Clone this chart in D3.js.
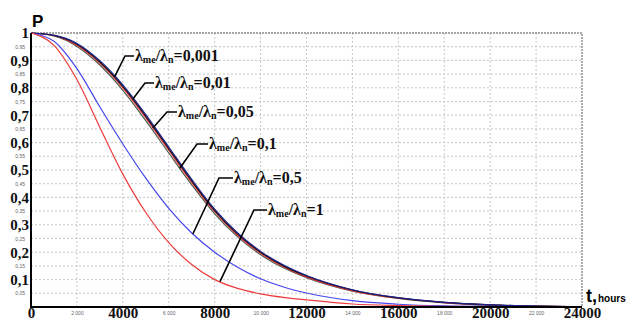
<!DOCTYPE html>
<html>
<head>
<meta charset="utf-8">
<script src="https://cdn.jsdelivr.net/npm/d3@7/dist/d3.min.js"></script>
<style>
    body { margin: 0; background: #fff; }
    svg { display: block; }
    .grid line { stroke: #c8c8c8; stroke-width: 1; stroke-dasharray: 2,2; }
    .major text { font-family: "Liberation Serif", "Times New Roman", serif; font-weight: bold; font-size: 15px; fill: #111; }
    .minor text { font-family: "Liberation Sans", Arial, sans-serif; font-size: 5px; fill: #666; }
    .curve { fill: none; stroke-width: 1.2; }
    .leader { fill: none; stroke: #000; stroke-width: 1.6; }
    .lbl { font-family: "Liberation Serif", "Times New Roman", serif; font-weight: bold; font-size: 16px; fill: #111; }
</style>
</head>
<body>
<svg id="chart" width="632" height="322"></svg>
<script>
// время, часы
const hours = [0, 1000, 2000, 3000, 4000, 5000, 6000, 7000, 8000, 9000, 10000,
    11000, 12000, 14000, 16000, 18000, 20000, 22000, 24000];

// вероятность P(t) для разных λme/λn
const p0001 = [1, 0.992, 0.962, 0.899, 0.811, 0.702, 0.584, 0.466, 0.357, 0.270, 0.203,
    0.153, 0.115, 0.063, 0.034, 0.017, 0.008, 0.003, 0.001];
const p001 = [1, 0.991, 0.959, 0.894, 0.805, 0.696, 0.578, 0.460, 0.352, 0.266, 0.200,
    0.150, 0.113, 0.062, 0.033, 0.017, 0.008, 0.003, 0.001];
const p005 = [1, 0.990, 0.955, 0.890, 0.800, 0.690, 0.572, 0.455, 0.348, 0.262, 0.196,
    0.147, 0.110, 0.060, 0.032, 0.016, 0.007, 0.003, 0.001];
const p01 = [1, 0.989, 0.951, 0.883, 0.791, 0.680, 0.562, 0.446, 0.340, 0.256, 0.191,
    0.143, 0.107, 0.058, 0.031, 0.015, 0.006, 0.002, 0.001];
const p05 = [1, 0.970, 0.870, 0.730, 0.595, 0.470, 0.360, 0.270, 0.200, 0.145, 0.103,
    0.073, 0.051, 0.023, 0.010, 0.004, 0.002, 0.001, 0];
const p1 = [1, 0.955, 0.830, 0.655, 0.485, 0.345, 0.235, 0.155, 0.100, 0.068, 0.048,
    0.035, 0.026, 0.011, 0.005, 0.002, 0.001, 0, 0];

const ratioLabels = ["0,001", "0,01", "0,05", "0,1", "0,5", "1"];

// подписи осей
const xMajorTicks = [0, 4000, 8000, 12000, 16000, 20000, 24000];
const xMinorTicks = [2000, 6000, 10000, 14000, 18000, 22000];
const yMajorTicks = [0.1, 0.2, 0.3, 0.4, 0.5, 0.6, 0.7, 0.8, 0.9, 1];
const yMinorTicks = [0.05, 0.15, 0.25, 0.35, 0.45, 0.55, 0.65, 0.75, 0.85, 0.95];

const series = [
    {values: p01, color: "#4f5a4c"},
    {values: p005, color: "#e8303a"},
    {values: p001, color: "#111111"},
    {values: p0001, color: "#1b1f86"},
    {values: p05, color: "#4646ee"},
    {values: p1, color: "#ee3b3b"}
];

// выноски: точка на кривой (t) и положение надписи
const callouts = [
    {s: 3, t: 3650, kx: 125, ky: 56, tx: 135, ty: 61},
    {s: 2, t: 4430, kx: 145, ky: 83, tx: 155, ty: 88},
    {s: 1, t: 5310, kx: 167, ky: 112, tx: 178, ty: 117},
    {s: 0, t: 6480, kx: 197, ky: 144, tx: 209, ty: 149},
    {s: 4, t: 7050, kx: 219, ky: 178, tx: 234, ty: 183},
    {s: 5, t: 8230, kx: 254, ky: 210, tx: 268, ty: 215}
];

const svg = d3.select("#chart");
const x = d3.scaleLinear().domain([0, 24000]).range([31, 582]);
const y = d3.scaleLinear().domain([0, 1]).range([307, 33]);

const comma = d3.formatLocale({decimal: ",", thousands: " ", grouping: [3], currency: ["", ""]});

// сетка
const grid = svg.append("g").attr("class", "grid");
grid.selectAll(".gx").data(xMajorTicks.concat(xMinorTicks).filter(d => d > 0 && d < 24000))
    .join("line")
    .attr("x1", d => x(d)).attr("x2", d => x(d))
    .attr("y1", y(1)).attr("y2", y(0));
grid.selectAll(".gy").data(yMajorTicks.concat(yMinorTicks).filter(d => d < 1))
    .join("line")
    .attr("x1", x(0)).attr("x2", x(24000))
    .attr("y1", d => y(d)).attr("y2", d => y(d));

// рамка сверху и справа
svg.append("path")
    .attr("d", `M${x(0)},${y(1)}H${x(24000)}V${y(0)}`)
    .attr("fill", "none").attr("stroke", "#8a8a8a").attr("stroke-width", 1.4)
    .attr("stroke-dasharray", "2,1");

// кривые
const line = d3.line()
    .x((d, i) => x(hours[i]))
    .y(d => y(d))
    .curve(d3.curveMonotoneX);

svg.selectAll(".curve").data(series)
    .join("path")
    .attr("class", "curve")
    .attr("stroke", d => d.color)
    .attr("d", d => line(d.values));

// оси
const yMajor = d3.axisLeft(y).tickValues(yMajorTicks).tickSize(0).tickPadding(2)
    .tickFormat(comma.format("~g"));
svg.append("g").attr("class", "major").attr("transform", `translate(${x(0)},0)`)
    .call(yMajor).call(g => g.select(".domain").remove());

const yMinor = d3.axisLeft(y).tickValues(yMinorTicks).tickSize(0).tickPadding(6)
    .tickFormat(comma.format("~g"));
svg.append("g").attr("class", "minor").attr("transform", `translate(${x(0)},0)`)
    .call(yMinor).call(g => g.select(".domain").remove());

const xMajor = d3.axisBottom(x).tickValues(xMajorTicks).tickSize(0).tickPadding(0)
    .tickFormat(d3.format("d"));
svg.append("g").attr("class", "major").attr("transform", `translate(0,${y(0)})`)
    .call(xMajor).call(g => g.select(".domain").remove());

const xMinor = d3.axisBottom(x).tickValues(xMinorTicks).tickSize(0).tickPadding(4)
    .tickFormat(comma.format(",d"));
svg.append("g").attr("class", "minor").attr("transform", `translate(0,${y(0)})`)
    .call(xMinor).call(g => g.select(".domain").remove());

// основные оси
svg.append("path")
    .attr("d", `M${x(0)},${y(1)}V${y(0)}H${x(24000)}`)
    .attr("fill", "none").attr("stroke", "#000").attr("stroke-width", 2);

// выноски
function valueAt(values, t) {
    const i = d3.bisectRight(hours, t) - 1;
    const k = (t - hours[i]) / (hours[i + 1] - hours[i]);
    return values[i] + k * (values[i + 1] - values[i]);
}

callouts.forEach((c, i) => {
    const px = x(c.t), py = y(valueAt(series[c.s].values, c.t));
    svg.append("path").attr("class", "leader")
        .attr("d", `M${px},${py}L${c.kx},${c.ky}H${c.tx - 1}`);
    const txt = svg.append("text").attr("class", "lbl").attr("x", c.tx).attr("y", c.ty);
    txt.append("tspan").text("λ");
    txt.append("tspan").attr("font-size", 10).attr("dy", 2).text("me");
    txt.append("tspan").attr("dy", -2).text("/λ");
    txt.append("tspan").attr("font-size", 10).attr("dy", 2).text("n");
    txt.append("tspan").attr("dy", -2).text("=" + ratioLabels[i]);
});

// заголовки осей
svg.append("text").attr("x", 32).attr("y", 27)
    .attr("font-family", "Liberation Sans, Arial, sans-serif").attr("font-weight", "bold")
    .attr("font-size", 17).text("P");

const tl = svg.append("text").attr("x", 586).attr("y", 302)
    .attr("font-family", "Liberation Sans, Arial, sans-serif").attr("font-weight", "bold");
tl.append("tspan").attr("font-size", 18).text("t,");
tl.append("tspan").attr("font-size", 10).attr("dx", 1).text("hours");
</script>
</body>
</html>
